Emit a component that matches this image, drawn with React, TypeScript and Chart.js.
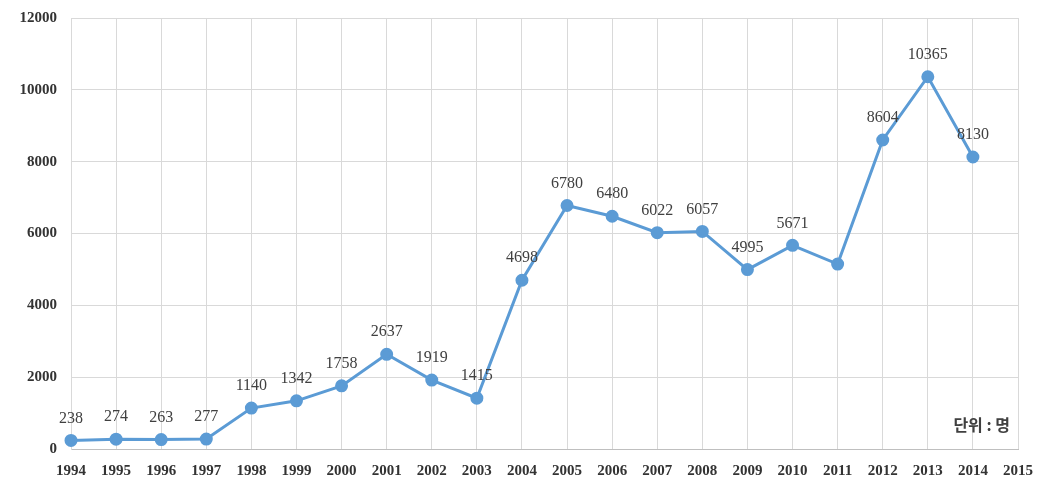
import React, { useEffect, useRef } from "react";
import { Chart, registerables } from "chart.js";

Chart.register(...registerables);

const years: string[] = [
  "1994", "1995", "1996", "1997", "1998", "1999", "2000", "2001", "2002", "2003", "2004",
  "2005", "2006", "2007", "2008", "2009", "2010", "2011", "2012", "2013", "2014", "2015",
];
const values: (number | null)[] = [
  238, 274, 263, 277, 1140, 1342, 1758, 2637, 1919, 1415, 4698,
  6780, 6480, 6022, 6057, 4995, 5671, 5150, 8604, 10365, 8130, null,
];
const shownLabels: (string | null)[] = [
  "238", "274", "263", "277", "1140", "1342", "1758", "2637", "1919", "1415", "4698",
  "6780", "6480", "6022", "6057", "4995", "5671", null, "8604", "10365", "8130", null,
];
const yTicks: number[] = [0, 2000, 4000, 6000, 8000, 10000, 12000];
const unitText = "단위 : 명";

const labelPlugin = {
  id: "valueLabels",
  afterDatasetsDraw(chart: any) {
    const ctx = chart.ctx;
    const meta = chart.getDatasetMeta(0);
    ctx.save();
    ctx.font = "16px 'Liberation Serif', 'Times New Roman', serif";
    ctx.fillStyle = "#404040";
    ctx.textAlign = "center";
    ctx.textBaseline = "middle";
    meta.data.forEach((pt: any, i: number) => {
      const t = shownLabels[i];
      if (t == null || values[i] == null) return;
      ctx.fillText(t, pt.x, pt.y - 22);
    });
    const area = chart.chartArea;
    ctx.font = "bold 16px 'Noto Sans CJK KR', sans-serif";
    ctx.fillStyle = "#404040";
    ctx.textAlign = "right";
    ctx.fillText(unitText, area.right - 8, area.bottom - 24);
    ctx.restore();
  },
};

export default function App() {
  const ref = useRef<HTMLCanvasElement | null>(null);
  useEffect(() => {
    if (!ref.current) return;
    const chart = new Chart(ref.current, {
      type: "line",
      data: {
        labels: years,
        datasets: [
          {
            data: values,
            borderColor: "#5B9BD5",
            backgroundColor: "#5B9BD5",
            borderWidth: 3,
            pointRadius: 5,
            pointBackgroundColor: "#5B9BD5",
            pointBorderColor: "#5B9BD5",
            tension: 0,
          },
        ],
      },
      options: {
        animation: false,
        responsive: false,
        maintainAspectRatio: false,
        layout: { padding: { left: 0, right: 30, top: 18, bottom: 0 } },
        plugins: { legend: { display: false }, tooltip: { enabled: false } },
        scales: {
          x: {
            type: "category",
            offset: false,
            afterFit: (s: any) => {
              s.height = 41;
              s.paddingLeft = 0;
              s.paddingRight = 0;
            },
            grid: { color: "#d9d9d9", lineWidth: 1, drawTicks: false },
            border: { color: "#bfbfbf", width: 1 },
            ticks: {
              padding: 13,
              maxRotation: 0,
              autoSkip: false,
              color: "#333333",
              font: { family: "'Liberation Serif', 'Times New Roman', serif", size: 15, weight: "bold" },
            },
          },
          y: {
            min: 0,
            max: 12000,
            afterFit: (s: any) => {
              s.width = 71;
              s.paddingTop = 0;
              s.paddingBottom = 0;
            },
            afterBuildTicks: (s: any) => {
              s.ticks = yTicks.map((v) => ({ value: v }));
            },
            grid: { color: "#d9d9d9", lineWidth: 1, drawTicks: false },
            border: { color: "#d9d9d9", width: 1 },
            ticks: {
              padding: 14,
              color: "#333333",
              font: { family: "'Liberation Serif', 'Times New Roman', serif", size: 15, weight: "bold" },
              callback: (v: any) => String(v),
            },
          },
        },
      },
      plugins: [labelPlugin],
    });
    return () => chart.destroy();
  }, []);
  return (
    <div style={{ position: "fixed", left: 0, top: 0, width: 1048, height: 490, background: "#ffffff" }}>
      <canvas ref={ref} width={1048} height={490} style={{ display: "block", width: 1048, height: 490 }} />
    </div>
  );
}
